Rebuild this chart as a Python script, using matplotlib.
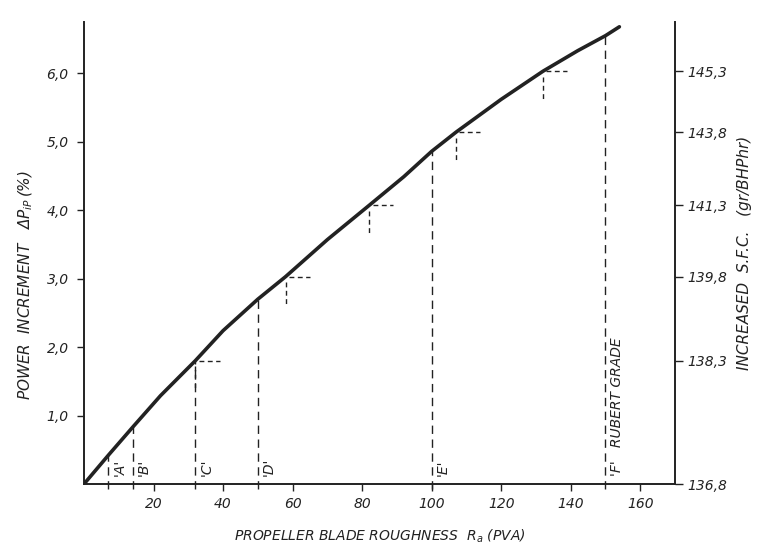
import matplotlib

matplotlib.use("Agg")
import matplotlib.pyplot as plt

plt.rcParams["font.family"] = ["DejaVu Sans"]
plt.rcParams["font.style"] = "italic"
plt.rcParams["mathtext.fontset"] = "dejavusans"

# curve: roughness (PVA) vs power increment (%)
rough = [0, 7, 14, 22, 32, 40, 50, 58, 70, 82, 92, 100, 107, 120, 132, 142, 150, 154]
power = [0, 0.42, 0.83, 1.29, 1.80, 2.24, 2.70, 3.03, 3.57, 4.07, 4.49, 4.86, 5.14, 5.62, 6.03, 6.33, 6.55, 6.68]

# grade lines
grade_x = [7, 14, 32, 50, 100, 150]
grade_top = [0.42, 0.83, 1.80, 2.70, 4.86, 6.55]
grade_names = ["'A'", "'B'", "'C'", "'D'", "'E'", "'F'   RUBERT GRADE"]

# S.F.C. step markers and right scale
sfc_x = [32, 58, 82, 107, 132]
sfc_level = [1.80, 3.03, 4.07, 5.14, 6.03]
sfc_ticks = [0] + sfc_level
sfc_labels = ["136,8", "138,3", "139,8", "141,3", "143,8", "145,3"]

x_ticks = [20, 40, 60, 80, 100, 120, 140, 160]
y_ticks = [1, 2, 3, 4, 5, 6]
y_labels = ["1,0", "2,0", "3,0", "4,0", "5,0", "6,0"]

ink = "#222222"

fig = plt.figure(figsize=(7.57, 5.54), dpi=100)
ax = fig.add_axes([84 / 757, 1 - 484 / 554, (675 - 84) / 757, (484 - 22) / 554])
ax.set_xlim(0, 170)
ax.set_ylim(0, 6.75)

ax.plot(rough, power, color=ink, lw=2.6, solid_capstyle="round",
        solid_joinstyle="round", zorder=3)

for gx, gt, name in zip(grade_x, grade_top, grade_names):
    ax.plot([gx, gx], [-0.07, gt], color=ink, lw=1.0, ls=(0, (6, 4)), clip_on=False)
    ax.text(gx + 1.2, 0.12, name, rotation=90, ha="left", va="bottom",
            fontsize=10, color=ink)

for sx, sl in zip(sfc_x, sfc_level):
    ax.plot([sx + 1.0, sx + 7.0], [sl, sl], color=ink, lw=1.0, ls=(0, (3.5, 2.5)))
    ax.plot([sx, sx], [sl - 0.08, sl - 0.42], color=ink, lw=1.0, ls=(0, (3.5, 2.5)))

ax.spines["top"].set_visible(False)
for side in ["left", "bottom", "right"]:
    ax.spines[side].set_linewidth(1.4)
    ax.spines[side].set_color(ink)

ax.set_xticks(x_ticks)
ax.set_xticklabels([str(v) for v in x_ticks], fontsize=10)
ax.set_yticks(y_ticks)
ax.set_yticklabels(y_labels, fontsize=10)
ax.tick_params(axis="both", direction="out", length=5, width=1.0, colors=ink, pad=4)
ax.tick_params(axis="y", pad=6)

ax2 = ax.twinx()
ax2.set_ylim(ax.get_ylim())
for side in ["top", "left", "bottom", "right"]:
    ax2.spines[side].set_visible(False)
ax2.set_yticks(sfc_ticks)
ax2.set_yticklabels(sfc_labels, fontsize=10)
ax2.tick_params(axis="y", direction="out", length=6, width=1.0, colors=ink, pad=3)

ax.set_xlabel(r"PROPELLER BLADE ROUGHNESS  $R_a$ (PVA)", fontsize=10, color=ink, labelpad=12)
ax.set_ylabel(r"POWER  INCREMENT   $\Delta P_{iP}\,(\%)$", fontsize=11, color=ink)
ax.yaxis.set_label_coords(-0.083, 0.43)
ax2.set_ylabel("INCREASED  S.F.C.   (gr/BHPhr)", fontsize=11, color=ink)
ax2.yaxis.set_label_coords(1.105, 0.5)

fig.savefig("out.png", dpi=100, facecolor="white")
